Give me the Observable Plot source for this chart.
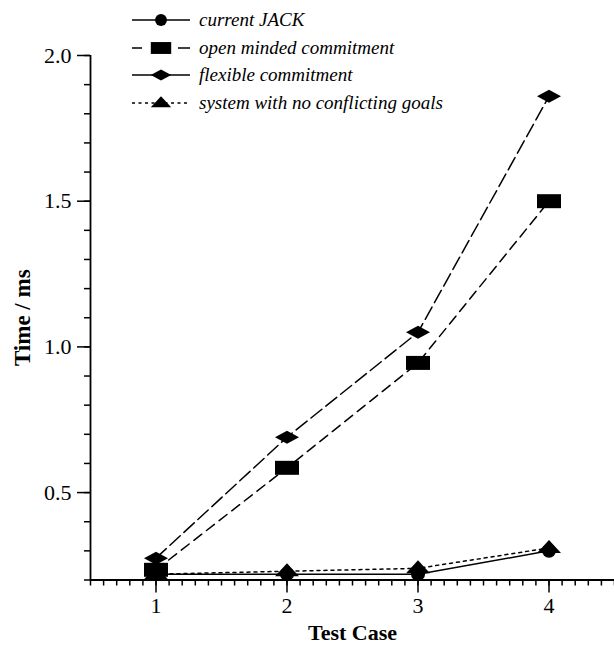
<!DOCTYPE html>
<html><head><meta charset="utf-8">
<script src="https://cdn.jsdelivr.net/npm/d3@7"></script>
<script src="https://cdn.jsdelivr.net/npm/@observablehq/plot@0.6"></script>
<style>
body{margin:0;background:#fff;}
#wrap{position:relative;width:614px;height:650px;font-family:'Liberation Serif',serif;color:#000;}
#legend{position:absolute;left:132px;top:6px;}
.row{display:flex;align-items:center;height:27.7px;}
.row svg{display:block;}
.row span{font-family:'Liberation Serif',serif;font-style:italic;font-size:19px;margin-left:9px;white-space:nowrap;}
</style></head><body>
<div id="wrap"><div id="chart"></div><div id="legend"></div></div>
<script>
// ---- data ----
const testCases = [1, 2, 3, 4];
const seriesNames = ["current JACK", "open minded commitment", "flexible commitment", "system with no conflicting goals"];
const currentJack = [0.22, 0.22, 0.22, 0.30];
const openMinded = [0.235, 0.585, 0.945, 1.50];
const flexible = [0.275, 0.69, 1.05, 1.86];
const noConflict = [0.22, 0.23, 0.24, 0.31];
const xTickLabels = [1, 2, 3, 4];
const yTickLabels = [0.5, 1.0, 1.5, 2.0];

// ---- marker shapes ----
const sym = {
  circle: {draw(c){ c.moveTo(7,0); c.arc(0,0,7,0,2*Math.PI); c.closePath(); }},
  square: {draw(c){ c.rect(-12,-7,24,14); }},
  diamond: {draw(c){ c.moveTo(0,-6.5); c.lineTo(12,0); c.lineTo(0,6.5); c.lineTo(-12,0); c.closePath(); }},
  triangle: {draw(c){ c.moveTo(0,-8); c.lineTo(12,5); c.lineTo(-12,5); c.closePath(); }}
};

const series = [
  {name: seriesNames[0], values: currentJack, dash: null, symbol: sym.circle, ldash: "none"},
  {name: seriesNames[3], values: noConflict, dash: "3,4", symbol: sym.triangle, ldash: "3,3.5"},
  {name: seriesNames[1], values: openMinded, dash: "10,6", symbol: sym.square, ldash: "10,36,12"},
  {name: seriesNames[2], values: flexible, dash: "14,5", symbol: sym.diamond, ldash: "none"}
];
const rows = s => testCases.map((x, i) => ({x, y: s.values[i], s: s.name}));

const lineMarks = series.map(s => Plot.line(rows(s), {x: "x", y: "y", stroke: "#000", strokeWidth: 1.5, strokeDasharray: s.dash ?? undefined}));
const dotMarks = series.map(s => Plot.dot(rows(s), {x: "x", y: "y", symbol: s.symbol, r: 7, fill: "#000", stroke: "none"}));

const chart = Plot.plot({
  width: 614, height: 650,
  marginLeft: 90, marginRight: 0, marginTop: 55, marginBottom: 70.5,
  x: {domain: [0.5, 4.5]},
  y: {domain: [0.2, 2.0]},
  style: {fontFamily: "'Liberation Serif', serif", fontSize: "22px", color: "#000", background: "#fff", overflow: "visible"},
  marks: [
    Plot.axisX({ticks: d3.range(5, 46).map(d => d / 10), tickSize: 6, text: null, label: null, strokeWidth: 1.5}),
    Plot.axisX({ticks: xTickLabels, tickSize: 13, tickPadding: 4, fontSize: 22, label: null, strokeWidth: 1.5, tickFormat: d => String(d)}),
    Plot.axisY({ticks: d3.range(2, 21).map(d => d / 10), tickSize: 6, text: null, label: null, strokeWidth: 1.5}),
    Plot.axisY({ticks: yTickLabels, tickSize: 13, tickPadding: 6, fontSize: 22, label: null, strokeWidth: 1.5, tickFormat: d3.format(".1f")}),
    Plot.ruleY([0.2], {strokeWidth: 1.8}),
    Plot.ruleX([0.5], {strokeWidth: 1.8}),
    ...lineMarks,
    ...dotMarks,
    Plot.text(["Time / ms"], {text: d => d, frameAnchor: "left", rotate: -90, dx: -68, textAnchor: "middle", lineAnchor: "middle", fontWeight: "bold", fontSize: 23}),
    Plot.text(["Test Case"], {text: d => d, frameAnchor: "bottom", dy: 53, textAnchor: "middle", lineAnchor: "middle", fontWeight: "bold", fontSize: 22})
  ]
});
document.getElementById("chart").append(chart);

// ---- legend ----
const legendOrder = [series[0], series[2], series[3], series[1]];
const legend = d3.select("#legend");
legendOrder.forEach(s => {
  const row = legend.append("div").attr("class", "row");
  const svg = row.append("svg").attr("width", 58).attr("height", 28);
  svg.append("line").attr("x1", 0).attr("x2", 58).attr("y1", 14).attr("y2", 14)
    .attr("stroke", "#000").attr("stroke-width", 1.6).attr("stroke-dasharray", s.ldash);
  const p = d3.path(); s.symbol.draw(p);
  svg.append("path").attr("d", p.toString()).attr("fill", "#000").attr("transform", "translate(29,14) scale(0.85)");
  row.append("span").text(s.name);
});
</script>
</body></html>
